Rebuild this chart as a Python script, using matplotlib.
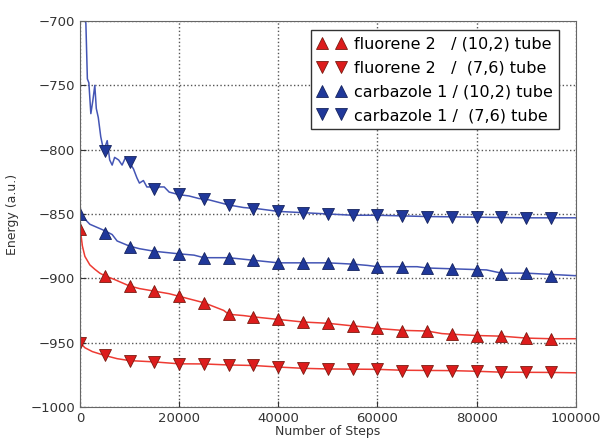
import numpy as np
import matplotlib
matplotlib.use("Agg")
import matplotlib.pyplot as plt

# energy traces (steps, energy in a.u.)
red_up_x = [0, 500, 1000, 2000, 3000, 4000, 5000, 7000, 10000, 12000, 15000, 18000,
            20000, 22000, 25000, 27000, 29000, 30000, 33000, 35000, 40000, 45000,
            50000, 55000, 58000, 60000, 65000, 70000, 73000, 75000, 80000, 85000,
            90000, 95000, 100000]
red_up_y = [-860, -875, -883, -889.6, -893, -896, -898, -901, -906, -908, -910, -912,
            -914, -916, -919, -922, -925, -928, -929, -930, -932, -934,
            -935, -937, -938, -939, -940.5, -941, -943, -943.5, -944.5, -945,
            -946.5, -947, -947]

red_dn_x = [0, 1000, 2500, 5000, 7500, 10000, 15000, 20000, 25000, 30000, 35000,
            40000, 45000, 50000, 60000, 65000, 75000, 80000, 85000, 95000, 100000]
red_dn_y = [-950, -954, -957, -960, -962.5, -964, -965, -966.5, -966.6, -967.4, -967.8,
            -969, -970, -970.5, -970.8, -971.5, -971.8, -972.3, -973, -973.2, -973.5]

blue_up_x = [0, 2000, 5000, 6500, 7500, 10000, 12000, 15000, 20000, 23000, 25000,
             30000, 35000, 40000, 50000, 55000, 58000, 60000, 68000, 70000, 78000,
             82000, 85000, 90000, 95000, 100000]
blue_up_y = [-850, -858, -863, -866, -871, -875, -877, -879, -881, -882, -884,
             -884, -886, -888, -888, -889, -890, -891, -891, -892, -893,
             -893.5, -896, -896, -897, -898]

blue_dn_x = [300, 800, 1200, 1500, 1800, 2200, 2600, 3000, 3300, 3700, 4200, 4800,
             5500, 6000, 6500, 7000, 7800, 8500, 9200, 10000, 10800, 11500, 12000,
             12800, 13500, 14500, 15000, 16000, 17000, 18000, 20000, 22000, 24000,
             26000, 28000, 30000, 33000, 36000, 40000, 45000, 50000, 55000, 60000,
             65000, 70000, 80000, 90000, 100000]
blue_dn_y = [-660, -690, -702, -745, -748, -772, -762, -750, -768, -775, -790, -801,
             -793, -808, -812, -806, -808, -812, -806, -810, -815, -822, -826,
             -824, -829, -829, -831, -829, -829, -833, -835, -836, -838,
             -839, -841, -843, -845, -846, -848, -849, -850, -851, -851,
             -851.5, -852, -852.5, -853, -853]

# marker samples every 5000 steps
mark_x = list(range(0, 100000, 5000))
red_up_m = [-862, -898, -906, -910, -913.7, -919, -927.7, -929.8, -931.6, -933.7,
            -935, -937, -938.8, -941, -941, -943.5, -944.8, -945, -946.6, -947.4]
red_dn_m = [-950, -959.6, -964, -964.8, -966.6, -966.6, -967.4, -967.4, -968.7, -970,
            -970.5, -970.5, -970.7, -971.7, -971.7, -971.7, -972, -973, -973, -973]
blue_up_m = [-850, -864.5, -875.6, -879.6, -881, -884, -884, -886, -887.8, -888,
             -888, -889, -891, -891, -892, -893, -893.5, -896.6, -896, -898]
blue_dn_mx = mark_x[1:]
blue_dn_m = [-801, -809.6, -830.6, -834.5, -838, -843, -846, -847.6, -849,
             -850, -851, -851, -851.5, -852, -852, -852.5, -852.5, -853, -853]

labels = ["fluorene 2   / (10,2) tube", "fluorene 2   /  (7,6) tube",
          "carbazole 1 / (10,2) tube", "carbazole 1 /  (7,6) tube"]

red_line = '#ee3b33'
red_mark = '#dd1c1c'
blue_line = '#4455b5'
blue_mark = '#20389a'

fig = plt.figure(figsize=(6.01, 4.38), dpi=100)
ax = fig.add_axes([0.133, 0.071, 0.825, 0.881])

ax.plot(red_up_x, red_up_y, color=red_line, lw=1.1)
ax.plot(red_dn_x, red_dn_y, color=red_line, lw=1.1)
ax.plot(blue_up_x, blue_up_y, color=blue_line, lw=1.1)
ax.plot(blue_dn_x, blue_dn_y, color=blue_line, lw=1.1)

ms = 8
ax.plot(mark_x, red_up_m, '^', color=red_mark, mec='#7a1a10', mew=0.6, ms=ms, label=labels[0])
ax.plot(mark_x, red_dn_m, 'v', color=red_mark, mec='#7a1a10', mew=0.6, ms=ms, label=labels[1])
ax.plot(mark_x, blue_up_m, '^', color=blue_mark, mec='#15235e', mew=0.6, ms=ms, label=labels[2])
ax.plot(blue_dn_mx, blue_dn_m, 'v', color=blue_mark, mec='#15235e', mew=0.6, ms=ms, label=labels[3])

ax.set_xlim(0, 100000)
ax.set_ylim(-1000, -700)
ax.set_xticks([0, 20000, 40000, 60000, 80000, 100000])
ax.set_yticks([-1000, -950, -900, -850, -800, -750, -700])
ax.tick_params(direction='in', labelsize=9.5, colors='#333333', length=4)
ax.grid(True, linestyle=':', color='#555555', lw=1)
for s in ax.spines.values():
    s.set_color('#666666')

ax.set_xlabel("Number of Steps", fontsize=9, labelpad=0, color='#333333')
ax.set_ylabel("Energy (a.u.)", fontsize=9, labelpad=8, color='#333333')

leg = ax.legend(loc='upper right', numpoints=2, fancybox=False, fontsize=11.5,
                handletextpad=0.5, borderpad=0.4, labelspacing=0.55,
                bbox_to_anchor=(0.966, 0.976), framealpha=1, handlelength=1.8,
                borderaxespad=0)
leg.get_frame().set_edgecolor('#333333')

fig.savefig("out.png", dpi=100)
